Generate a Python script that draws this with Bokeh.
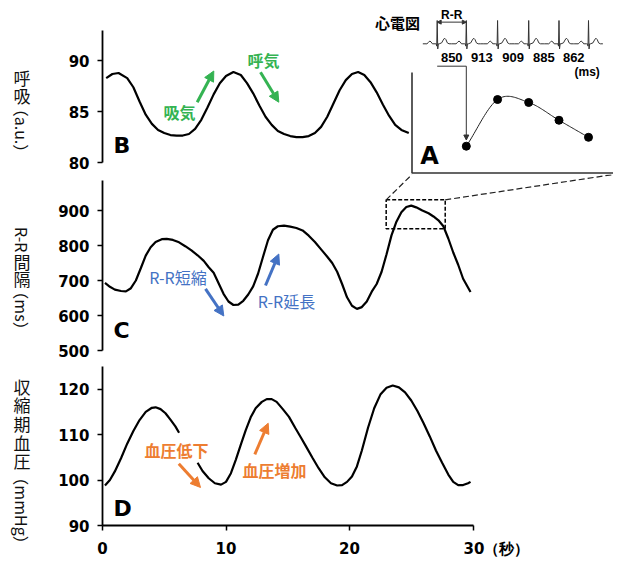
import math
import numpy as np
from bokeh.plotting import figure
from bokeh.models import Range1d, FixedTicker, Label, Arrow, NormalHead
from bokeh.layouts import column, row
from bokeh.embed import file_html
from bokeh.resources import INLINE
from bokeh.core.properties import value

# ------------------------------------------------------------------ data
TIME_TICKS = [0, 10, 20, 30]
TIME_UNIT = "（秒）"
RESP_TICKS = [80, 85, 90]
RR_TICKS = [500, 600, 700, 800, 900]
BP_TICKS = [90, 100, 110, 120]

# B: respiration (a.u.)
RESP_T = [0.3, 0.8, 1.3, 2.0, 2.5, 3.0, 3.5, 4.0, 4.5, 5.0, 5.5, 6.0, 6.5, 7.0, 7.5,
          8.0, 8.5, 9.0, 9.5, 10.0, 10.6, 11.2, 11.7, 12.2, 12.7, 13.2, 13.7, 14.2,
          14.7, 15.2, 15.7, 16.2, 16.7, 17.2, 17.7, 18.2, 18.7, 19.2, 19.7, 20.2,
          20.7, 21.2, 21.7, 22.2, 22.7, 23.2, 23.7, 24.2, 24.8]
RESP_V = [88.3, 88.7, 88.8, 88.3, 87.4, 86.0, 84.7, 83.8, 83.2, 82.9, 82.7, 82.65,
          82.65, 82.8, 83.3, 84.2, 85.4, 86.7, 87.8, 88.5, 88.9, 88.6, 87.8, 86.8,
          85.6, 84.5, 83.7, 83.1, 82.8, 82.6, 82.5, 82.5, 82.6, 82.9, 83.5, 84.5,
          85.8, 87.1, 88.1, 88.7, 88.9, 88.6, 87.9, 86.9, 85.7, 84.6, 83.7, 83.2, 82.9]

# C: R-R interval (ms)
RR_T = [0.2, 0.6, 1.0, 1.5, 1.9, 2.3, 2.7, 3.1, 3.5, 3.9, 4.3, 4.8, 5.2, 5.7, 6.2,
        6.7, 7.2, 7.7, 8.2, 8.6, 9.0, 9.4, 9.8, 10.2, 10.6, 11.0, 11.4, 11.8, 12.2,
        12.6, 13.0, 13.4, 13.8, 14.2, 14.7, 15.2, 15.7, 16.2, 16.7, 17.2, 17.7, 18.2,
        18.6, 19.0, 19.4, 19.8, 20.2, 20.6, 21.0, 21.4, 21.8, 22.2, 22.6, 23.0, 23.4,
        23.8, 24.2, 24.6, 25.0, 25.4, 25.9, 26.4, 26.8, 27.2, 27.6, 28.0, 28.4, 28.8,
        29.2, 29.8]
RR_V = [693, 682, 674, 670, 669, 678, 700, 735, 771, 795, 810, 818, 819, 816, 809,
        798, 786, 772, 756, 738, 722, 692, 662, 640, 630, 631, 642, 660, 683, 720,
        768, 815, 845, 855, 857, 854, 850, 843, 828, 810, 789, 768, 750, 725, 690,
        652, 628, 619, 624, 640, 668, 690, 725, 775, 829, 868, 895, 910, 914, 909,
        900, 892, 883, 872, 855, 820, 780, 745, 705, 667]

# D: systolic blood pressure (mmHg) -- gap where the label hides the trace
BP_T = [0.2, 0.6, 1.0, 1.5, 2.0, 2.5, 3.0, 3.5, 4.0, 4.3, 4.7, 5.1, 5.5, 5.9, 6.2,
        6.9, 7.7, 8.1, 8.6, 9.1, 9.6, 10.0, 10.4, 10.8, 11.2, 11.6, 12.0, 12.4, 12.9,
        13.3, 13.7, 14.1, 14.6, 15.1, 15.6, 16.1, 16.5, 17.0, 17.5, 18.0, 18.5, 19.0,
        19.4, 19.8, 20.2, 20.6, 21.0, 21.5, 22.0, 22.5, 23.0, 23.5, 24.0, 24.5, 25.0,
        25.5, 26.0, 26.5, 27.0, 27.5, 28.0, 28.4, 28.8, 29.2, 29.6, 29.8]
BP_V = [98.8, 100.0, 101.9, 104.8, 108.0, 110.8, 113.2, 115.0, 115.9, 116.0, 115.6,
        114.7, 113.3, 111.8, 110.4, float("nan"), 103.8, 102.0, 100.4, 99.3, 99.0,
        99.6, 101.5, 104.5, 107.8, 111.0, 113.8, 115.8, 117.2, 117.8, 117.8, 117.2,
        115.6, 113.9, 111.5, 109.2, 107.3, 104.9, 102.6, 100.6, 99.3, 98.8, 98.9,
        99.6, 100.8, 103.0, 106.5, 111.5, 115.8, 118.8, 120.3, 120.8, 120.4, 119.3,
        117.5, 115.2, 112.5, 109.6, 106.5, 103.8, 101.2, 99.6, 98.9, 98.9, 99.3, 99.6]

# A: ECG R-R intervals (ms)
ECG_RR = [850, 913, 909, 885, 862]
# zoom box drawn on panel C (time s, R-R ms)
ZOOM_T = [22.97, 27.75]
ZOOM_V = [847.6, 930.5]

# ECG beat drawing template (offset ms from R peak, relative amplitude)
BEAT_OFF = [-420, -300, -255, -215, -180, -140, -60, -30, -14, 0, 16, 34, 60, 130,
            175, 215, 255, 295, 345, 420]
BEAT_AMP = [0, 0, 0.06, 0.12, 0.08, 0, 0, 0, -0.1, 1.0, -0.22, 0, 0, 0.04, 0.16,
            0.24, 0.18, 0.04, 0, 0]

# y-axis titles: (text, page-y centre, rotated)
TITLE_B = [("呼", 76.7, False), ("吸", 95.0, False), ("（a.u.）", 130.0, True)]
TITLE_C = [("R-R", 239.2, True), ("間", 261.0, False), ("隔", 278.3, False),
           ("（ms）", 310.0, True)]
TITLE_D = [("収", 385.5, False), ("縮", 404.0, False), ("期", 422.5, False),
           ("血", 441.7, False), ("圧", 460.0, False), ("（mmHg）", 510.0, True)]

# ------------------------------------------------------------------ layout (page px)
TITLE_W = 40
FRAME_L, FRAME_R = 102, 613
PX_PER_S = 12.35
XEND = (FRAME_R - FRAME_L) / PX_PER_S
B_TOP, B_BOT = 0, 174
C_TOP, C_BOT = 174, 360
D_TOP, D_BOT = 360, 527
D_AXIS_H = 33
TOTAL_H = D_BOT + D_AXIS_H
W = FRAME_R - TITLE_W
BORDER_L = FRAME_L - TITLE_W

FONT_JP = "Noto Sans CJK JP"
FONT_NUM = "DejaVu Sans"
GREEN, BLUE, ORANGE = "#34B352", "#4472C4", "#ED7D31"


def tx(px):
    return (px - FRAME_L) / PX_PER_S


def lin(top, bot, v1, p1, v2, p2):
    s = (p2 - p1) / (v1 - v2)
    start = v2 - (bot - p2) / s
    end = v2 + (p2 - top) / s
    return (start, end), (lambda py: v2 + (p2 - py) / s)


B_R, by = lin(B_TOP, B_BOT, 90, 60.3, 80, 162.0)
C_R, cy = lin(C_TOP, C_BOT, 900, 210.0, 500, 350.0)
D_R, dy = lin(D_TOP, D_BOT, 120, 389.0, 90, 527.0)


def style_axis(ax, ticks, bounds, standoff):
    ax.ticker = FixedTicker(ticks=ticks)
    ax.bounds = bounds
    ax.axis_line_color = "black"
    ax.axis_line_width = 1.8
    ax.major_tick_line_color = "black"
    ax.major_tick_line_width = 1.5
    ax.major_tick_out = 5
    ax.major_tick_in = 0
    ax.minor_tick_line_color = None
    ax.major_label_text_font = FONT_NUM
    ax.major_label_text_font_style = "bold"
    ax.major_label_text_font_size = "15px"
    ax.major_label_text_color = "black"
    ax.major_label_standoff = standoff


def make_fig(top, bot, yr, xaxis):
    h = bot - top + (D_AXIS_H if xaxis else 0)
    p = figure(width=W, height=h, x_range=Range1d(0, XEND), y_range=Range1d(*yr),
               output_backend="svg", toolbar_location=None, title=None,
               x_axis_location="below" if xaxis else None, y_axis_location="left",
               min_border_left=BORDER_L, min_border_right=0, min_border_top=0,
               min_border_bottom=D_AXIS_H if xaxis else 0)
    p.outline_line_color = None
    p.xgrid.visible = False
    p.ygrid.visible = False
    p.background_fill_color = "white"
    p.border_fill_color = "white"
    return p


def panel_letter(p, conv, letter, pyc):
    p.add_layout(Label(x=tx(113), y=conv(pyc), text=letter, text_align="left",
                       text_baseline="middle", text_font=FONT_NUM, text_font_style="bold",
                       text_font_size="22px", text_color="black"))


def note(p, conv, txt, pxc, pyc, color, bold=True):
    p.add_layout(Label(x=tx(pxc), y=conv(pyc), text=txt, text_align="center",
                       text_baseline="middle", text_font=FONT_JP,
                       text_font_style="bold" if bold else "normal",
                       text_font_size="16px", text_color=color))


def arrow(p, conv, x0, y0, x1, y1, color):
    p.add_layout(Arrow(end=NormalHead(size=10, fill_color=color, line_color=color, line_width=1),
                       x_start=tx(x0), y_start=conv(y0), x_end=tx(x1), y_end=conv(y1),
                       line_color=color, line_width=3))


# ------------------------------------------------------------------ left title strip
pT = figure(width=TITLE_W, height=TOTAL_H, x_range=Range1d(0, TITLE_W),
            y_range=Range1d(-TOTAL_H, 0), output_backend="svg", toolbar_location=None,
            title=None, x_axis_location=None, y_axis_location=None,
            min_border_left=0, min_border_right=0, min_border_top=0, min_border_bottom=0)
pT.outline_line_color = None
pT.xgrid.visible = False
pT.ygrid.visible = False
all_titles = TITLE_B + TITLE_C + TITLE_D
up = [t for t in all_titles if not t[2]]
rot = [t for t in all_titles if t[2]]
pT.text(x=[21.5] * len(up), y=[-t[1] for t in up], text=[t[0] for t in up],
        text_align="center", text_baseline="middle", text_font=value(FONT_JP),
        text_font_size="17px", text_color="#111111")
pT.text(x=[21.5] * len(rot), y=[-t[1] for t in rot], text=[t[0] for t in rot],
        angle=-math.pi / 2, text_align="center", text_baseline="middle",
        text_font=value(FONT_JP), text_font_size="16px", text_color="#111111")

# ------------------------------------------------------------------ panel B + inset A
pB = make_fig(B_TOP, B_BOT, B_R, False)
style_axis(pB.yaxis[0], RESP_TICKS, (80, 93), 8)
pB.line(RESP_T, RESP_V, line_color="black", line_width=2.2)
panel_letter(pB, by, "B", 144.5)
note(pB, by, "吸気", 179, 111.7, GREEN)
note(pB, by, "呼気", 263, 59, GREEN)
arrow(pB, by, 196.7, 101.7, 213.3, 70.5, GREEN)
arrow(pB, by, 260.0, 71.7, 278.3, 101.7, GREEN)

ECG_X0, ECG_XS = 436.7, 0.03424          # page x of first R, px per ms
RR_Y0, RR_YS = 145.7, 0.741              # page y of 850 ms, px per ms
EV_Y0, EV_YS = 43.3, 23.3                # page y of ECG baseline, px per unit
pB.extra_x_ranges = {
    "ecg": Range1d((FRAME_L - ECG_X0) / ECG_XS, (FRAME_R - ECG_X0) / ECG_XS),
    "pg": Range1d(FRAME_L, FRAME_R)}
pB.extra_y_ranges = {
    "rr": Range1d(850 - (B_BOT - RR_Y0) / RR_YS, 850 + (RR_Y0 - B_TOP) / RR_YS),
    "ev": Range1d(-(B_BOT - EV_Y0) / EV_YS, (EV_Y0 - B_TOP) / EV_YS),
    "pg": Range1d(B_BOT, B_TOP)}

r_times = np.concatenate([[0.0], np.cumsum(ECG_RR)])
ecg_x, ecg_y = [], []
for rt in r_times:
    ecg_x.extend(rt + np.array(BEAT_OFF, dtype=float))
    ecg_y.extend(BEAT_AMP)
pB.line(ecg_x, ecg_y, x_range_name="ecg", y_range_name="ev", line_color="#333333", line_width=1)

pB.add_layout(Arrow(start=NormalHead(size=4, fill_color="#333333", line_color="#333333"),
                    end=NormalHead(size=4, fill_color="#333333", line_color="#333333"),
                    x_start=r_times[0], x_end=r_times[1], y_start=0.93, y_end=0.93,
                    x_range_name="ecg", y_range_name="ev", line_color="#333333", line_width=1))
pB.add_layout(Label(x=(r_times[0] + r_times[1]) / 2, y=(EV_Y0 - 14) / EV_YS, text="R-R",
                    x_range_name="ecg", y_range_name="ev", text_align="center",
                    text_baseline="middle", text_font="Liberation Sans", text_font_style="bold",
                    text_font_size="12px", text_color="black"))
mids = (r_times[:-1] + r_times[1:]) / 2
pB.text(x=mids, y=[(EV_Y0 - 56.7) / EV_YS] * len(mids), text=[str(v) for v in ECG_RR],
        x_range_name="ecg", y_range_name="ev", text_align="center", text_baseline="middle",
        text_font=value("Liberation Sans"), text_font_style="bold", text_font_size="13px",
        text_color="black")
pB.add_layout(Label(x=586.7, y=71, text="(ms)", x_range_name="pg", y_range_name="pg",
                    text_align="center", text_baseline="middle", text_font="Liberation Sans",
                    text_font_style="bold", text_font_size="12px", text_color="black"))
pB.add_layout(Label(x=397, y=22, text="心電図", x_range_name="pg", y_range_name="pg",
                    text_align="center", text_baseline="middle", text_font=FONT_JP,
                    text_font_style="bold", text_font_size="15px", text_color="black"))

pB.line([411.5, 411.5, FRAME_R], [72, 172.5, 172.5], x_range_name="pg", y_range_name="pg",
        line_color="#333333", line_width=1.6)
x_first = ECG_X0 + r_times[1] * ECG_XS
pB.line([ECG_X0, x_first], [65.7, 65.7], x_range_name="pg", y_range_name="pg",
        line_color="#333333", line_width=1)
pB.add_layout(Arrow(end=NormalHead(size=5, fill_color="#333333", line_color="#333333"),
                    x_start=x_first, y_start=65.7, x_end=x_first, y_end=139.5,
                    x_range_name="pg", y_range_name="pg", line_color="#333333", line_width=1))


def catmull(xs, ys, n=24):
    P = np.column_stack([xs, ys]).astype(float)
    P = np.vstack([2 * P[0] - P[1], P, 2 * P[-1] - P[-2]])
    out = []
    for i in range(1, len(P) - 2):
        p0, p1, p2, p3 = P[i - 1], P[i], P[i + 1], P[i + 2]
        for s in np.linspace(0, 1, n, endpoint=(i == len(P) - 3)):
            out.append(0.5 * ((2 * p1) + (-p0 + p2) * s + (2 * p0 - 5 * p1 + 4 * p2 - p3) * s ** 2
                              + (-p0 + 3 * p1 - 3 * p2 + p3) * s ** 3))
    out = np.array(out)
    return out[:, 0], out[:, 1]


dot_px = ECG_X0 + r_times[1:] * ECG_XS
dot_py = RR_Y0 - (np.array(ECG_RR) - 850) * RR_YS
cx_, cy_ = catmull(dot_px, dot_py)
pB.line(cx_, cy_, x_range_name="pg", y_range_name="pg", line_color="#222222", line_width=1)
pB.scatter(r_times[1:], ECG_RR, x_range_name="ecg", y_range_name="rr", size=8,
           fill_color="black", line_color="black")
pB.add_layout(Label(x=429, y=155, text="A", x_range_name="pg", y_range_name="pg",
                    text_align="center", text_baseline="middle", text_font=FONT_NUM,
                    text_font_style="bold", text_font_size="24px", text_color="black"))

# ------------------------------------------------------------------ panel C
pC = make_fig(C_TOP, C_BOT, C_R, False)
style_axis(pC.yaxis[0], RR_TICKS, (500, 985), 8)
pC.line(RR_T, RR_V, line_color="black", line_width=2.2)
panel_letter(pC, cy, "C", 330)
note(pC, cy, "R-R短縮", 177.5, 276, BLUE, bold=False)
note(pC, cy, "R-R延長", 286, 300, BLUE, bold=False)
arrow(pC, cy, 205, 288.3, 223.3, 315.5, BLUE)
arrow(pC, cy, 265, 285, 278.3, 253.5, BLUE)
pC.quad(left=ZOOM_T[0], right=ZOOM_T[1], bottom=ZOOM_V[0], top=ZOOM_V[1],
        fill_color=None, line_color="black", line_dash="4 2", line_width=1.5)
pC.line([ZOOM_T[0], tx(411.5)], [ZOOM_V[1], C_R[1]], line_color="#222222",
        line_dash="6 3", line_width=1.2)
pC.line([ZOOM_T[1], XEND], [ZOOM_V[1], C_R[1]], line_color="#222222",
        line_dash="6 3", line_width=1.2)

# ------------------------------------------------------------------ panel D
pD = make_fig(D_TOP, D_BOT, D_R, True)
style_axis(pD.yaxis[0], BP_TICKS, (90, 125), 8)
style_axis(pD.xaxis[0], TIME_TICKS, (0, 30), 9)
# last tick carries the unit; padded with no-break spaces so that the number stays centred
pad = "\u00a0" * 9
pD.xaxis[0].major_label_overrides = {TIME_TICKS[-1]: pad + str(TIME_TICKS[-1]) + TIME_UNIT}
pD.line(BP_T, BP_V, line_color="black", line_width=2.2)
panel_letter(pD, dy, "D", 509.5)
note(pD, dy, "血圧低下", 176, 451, ORANGE)
note(pD, dy, "血圧増加", 274, 471, ORANGE)
arrow(pD, dy, 178.3, 464.5, 200, 488.5, ORANGE)
arrow(pD, dy, 254.3, 455, 267.7, 423.5, ORANGE)

layout = row(pT, column(pB, pC, pD, spacing=0), spacing=0)
open("out.html", "w").write(file_html(layout, INLINE))
